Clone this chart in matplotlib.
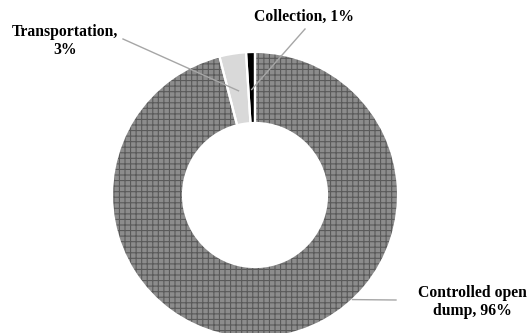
import numpy as np
import matplotlib
matplotlib.use("Agg")
import matplotlib.pyplot as plt

# data
stages = ['Collection', 'Transportation', 'Controlled open dump']
shares = [1, 3, 96]
colors = ['#000000', '#d9d9d9', '#8c8c8c']
label_texts = ['Collection, 1%', 'Transportation,\n3%', 'Controlled open\ndump, 96%']

plt.rcParams['hatch.linewidth'] = 0.8
plt.rcParams['font.family'] = ['Liberation Serif', 'DejaVu Serif']

W, H = 529, 333
fig = plt.figure(figsize=(W / 100, H / 100), dpi=100)
ax = fig.add_axes([0, 0, 1, 1])

cx, cy = 255, H - 195
R, ring = 143, 71

wedges, _ = ax.pie(shares, colors=colors, startangle=90, counterclock=True,
                   center=(cx, cy), radius=R,
                   wedgeprops=dict(width=ring, edgecolor='#5a5a5a', linewidth=0))
wedges[2].set_hatch('+++')

# white separators between slices
ax.pie(shares, startangle=90, counterclock=True, center=(cx, cy), radius=R,
       wedgeprops=dict(width=ring, fill=False, edgecolor='white', linewidth=1.6))

ax.set_xlim(0, W)
ax.set_ylim(0, H)
ax.set_aspect('equal')
ax.axis('off')

# leader lines point to middle of the ring for the small slices
def mid_point(w, r):
    a = np.deg2rad((w.theta1 + w.theta2) / 2)
    return cx + r * np.cos(a), cy + r * np.sin(a)

line_kw = dict(color='#a6a6a6', lw=1.0)
r_mid = R - ring / 2 - 2

x0, y0 = mid_point(wedges[0], r_mid)
ax.plot([305, x0], [H - 29, y0], **line_kw)
x1, y1 = mid_point(wedges[1], r_mid)
ax.plot([123, x1], [H - 39, y1], **line_kw)
a2 = np.deg2rad(-47)
ax.plot([cx + R * np.cos(a2), 396], [cy + R * np.sin(a2), H - 300], **line_kw)

txt_kw = dict(fontsize=11.3, fontweight='bold', ha='center', va='center',
              linespacing=1.2)
ax.text(304, H - 17, label_texts[0], **txt_kw)
ax.text(65, H - 41, label_texts[1], **txt_kw)
ax.text(472, H - 302, label_texts[2], **txt_kw)

fig.savefig('out.png', dpi=100)
